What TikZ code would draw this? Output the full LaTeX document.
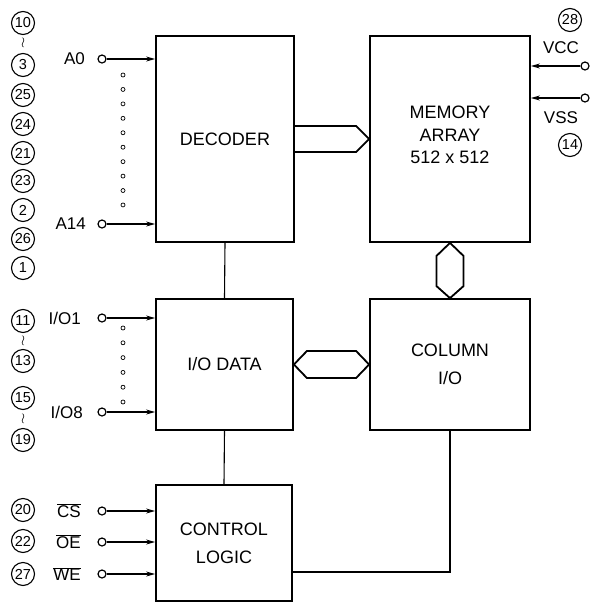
\documentclass[tikz,border=0pt]{standalone}
\usepackage{fontspec}
\setmainfont{Liberation Sans}
\usetikzlibrary{arrows.meta,calc}
\begin{document}
\begin{tikzpicture}[x=1pt,y=-1pt,
  blk/.style={draw,line width=1.8pt,inner sep=0pt,align=center,font=\fontsize{18}{28}\selectfont},
  bus/.style={line width=1.8pt,line join=miter},
  sig/.style={line width=1.2pt,-{Stealth[length=9pt,width=5pt]}},
  wire/.style={line width=1.1pt},
  term/.style={circle,draw,line width=1.2pt,minimum size=8pt,inner sep=0pt},
  pin/.style={circle,draw,line width=1.1pt,minimum size=23pt,inner sep=0pt,font=\fontsize{14.5}{14}\selectfont},
  lbl/.style={inner sep=0pt,font=\fontsize{17}{17}\selectfont},
  dotc/.style={circle,draw,line width=0.7pt,minimum size=4pt,inner sep=0pt},
  wr/.style={inner sep=0pt,font=\Large}]
\useasboundingbox (0,0) rectangle (590,603);
% blocks
\node[blk,minimum width=138pt,minimum height=206pt] (dec) at (225,139) {DECODER};
\node[blk,minimum width=160pt,minimum height=206pt] (mem) at (450,139) {};
\node[inner sep=0pt,align=center,font=\fontsize{18}{22.5}\selectfont] (memt) at (450,135) {MEMORY\\ARRAY\\512 x 512};
\node[blk,minimum width=137pt,minimum height=131pt] (io) at (224.5,364.5) {I/O DATA};
\node[blk,minimum width=160pt,minimum height=131pt] (col) at (450,364.5) {COLUMN\\I/O};
\node[blk,minimum width=136pt,minimum height=116pt] (ctl) at (224,543) {CONTROL\\LOGIC};
% buses
\draw[bus] ($(dec.east)+(0,-13)$) -- ($(mem.west)+(-13,-13)$) -- (mem.west) -- ($(mem.west)+(-13,13)$) -- ($(dec.east)+(0,13)$);
\draw[bus] (mem.south) -- ($(mem.south)+(13.5,13)$) -- ($(col.north)+(13.5,-12)$) -- (col.north) -- ($(col.north)+(-13.5,-12)$) -- ($(mem.south)+(-13.5,13)$) -- cycle;
\draw[bus] (io.east) -- ($(io.east)+(13,-13.5)$) -- ($(col.west)+(-13,-13.5)$) -- (col.west) -- ($(col.west)+(-13,13.5)$) -- ($(io.east)+(13,13.5)$) -- cycle;
% wires
\draw[wire] (dec.south) -- (io.north);
\draw[wire] (io.south) -- (ctl.north);
\coordinate (cj) at ($(ctl.east)+(0,29)$);
\draw[wire] (col.south) |- (cj);
% address inputs
\node[term] (a0) at (102,59) {};
\node[term] (a14) at (102,224) {};
\draw[sig] (a0) -- (a0 -| dec.west);
\draw[sig] (a14) -- (a14 -| dec.west);
\node[lbl,anchor=east] (la0) at (85,59) {A0};
\node[lbl,anchor=east] (la14) at (86,224) {A14};
\foreach \i in {0,...,9} \node[dotc] (ad\i) at (123,75+\i*14.44) {};
% I/O
\node[term] (io1) at (102,318) {};
\node[term] (io8) at (102,412) {};
\draw[sig] (io1) -- (io1 -| io.west);
\draw[sig] (io8) -- (io8 -| io.west);
\node[lbl,anchor=east] (lio1) at (81,318) {I/O1};
\node[lbl,anchor=east] (lio8) at (83,412) {I/O8};
\foreach \i in {0,...,5} \node[dotc] (iod\i) at (123,328+\i*14.8) {};
% control
\node[term] (cs) at (102,511) {};
\node[term] (oe) at (102,542) {};
\node[term] (we) at (102,574) {};
\draw[sig] (cs) -- (cs -| ctl.west);
\draw[sig] (oe) -- (oe -| ctl.west);
\draw[sig] (we) -- (we -| ctl.west);
\node[lbl,anchor=east] (lcs) at (81,511) {$\overline{\hbox{CS}}$};
\node[lbl,anchor=east] (loe) at (81,542) {$\overline{\hbox{OE}}$};
\node[lbl,anchor=east] (lwe) at (81,574) {$\overline{\hbox{WE}}$};
% power
\node[term] (vcc) at (585,66) {};
\node[term] (vss) at (585,98) {};
\draw[sig] (vcc) -- (vcc -| mem.east);
\draw[sig] (vss) -- (vss -| mem.east);
\node[lbl] (lvcc) at (561,48) {VCC};
\node[lbl] (lvss) at (561,118) {VSS};
\node[pin] (p28) at (570,20) {28};
\node[pin] (p14) at (570,145) {14};
% pin numbers left
\node[pin] (p10) at (23,23) {10};
\node[wr] (w1) at (23,43) {$\wr$};
\node[pin] (p3) at (23,65) {3};
\node[pin] (p25) at (23,95) {25};
\node[pin] (p24) at (23,124) {24};
\node[pin] (p21) at (23,153) {21};
\node[pin] (p23) at (23,181) {23};
\node[pin] (p2) at (23,210) {2};
\node[pin] (p26) at (23,239) {26};
\node[pin] (p1) at (23,268) {1};
\node[pin] (p11) at (23,321) {11};
\node[wr] (w2) at (23,341) {$\wr$};
\node[pin] (p13) at (23,361) {13};
\node[pin] (p15) at (23,398) {15};
\node[wr] (w3) at (23,419) {$\wr$};
\node[pin] (p19) at (23,440) {19};
\node[pin] (p20) at (23,510) {20};
\node[pin] (p22) at (23,541) {22};
\node[pin] (p27) at (23,574) {27};
\end{tikzpicture}
\end{document}
